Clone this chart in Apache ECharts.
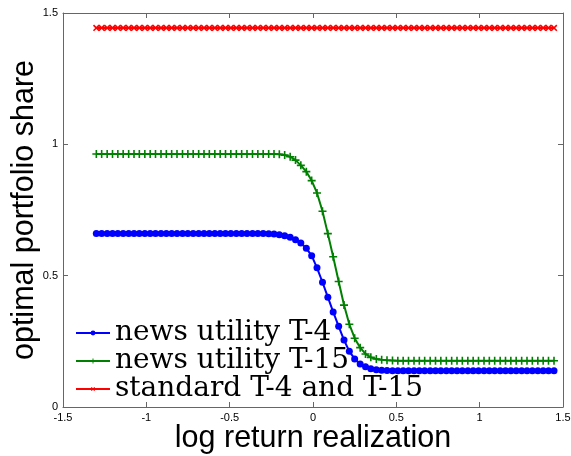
<!DOCTYPE html>
<html>
<head>
<meta charset="utf-8">
<script src="https://cdn.jsdelivr.net/npm/echarts@6/dist/echarts.min.js"></script>
<style>
html,body{margin:0;padding:0;background:#fff;}
#chart{width:571px;height:456px;}
</style>
</head>
<body>
<div id="chart"></div>
<script>
// log return grid
var xVals = [
 -1.300,-1.268,-1.235,-1.203,-1.171,-1.139,-1.106,-1.074,-1.042,-1.009,
 -0.977,-0.945,-0.912,-0.880,-0.848,-0.816,-0.783,-0.751,-0.719,-0.686,
 -0.654,-0.622,-0.589,-0.557,-0.525,-0.493,-0.460,-0.428,-0.396,-0.363,
 -0.331,-0.299,-0.266,-0.234,-0.202,-0.170,-0.137,-0.105,-0.073,-0.040,
 -0.008, 0.024, 0.057, 0.089, 0.121, 0.154, 0.186, 0.218, 0.250, 0.283,
  0.315, 0.347, 0.380, 0.412, 0.444, 0.477, 0.509, 0.541, 0.573, 0.606,
  0.638, 0.670, 0.703, 0.735, 0.767, 0.800, 0.832, 0.864, 0.896, 0.929,
  0.961, 0.993, 1.026, 1.058, 1.090, 1.123, 1.155, 1.187, 1.219, 1.252,
  1.284, 1.316, 1.349, 1.381, 1.413, 1.446
];
var newsT4 = [
 0.661,0.661,0.661,0.661,0.661,0.661,0.661,0.661,0.661,0.661,
 0.661,0.661,0.661,0.661,0.661,0.661,0.661,0.661,0.661,0.661,
 0.661,0.661,0.661,0.661,0.661,0.661,0.661,0.661,0.661,0.661,
 0.661,0.661,0.660,0.659,0.656,0.652,0.646,0.637,0.624,0.604,
 0.576,0.530,0.475,0.418,0.362,0.307,0.255,0.212,0.183,0.164,
 0.153,0.146,0.142,0.140,0.139,0.138,0.138,0.138,0.138,0.138,
 0.138,0.138,0.138,0.138,0.138,0.138,0.138,0.138,0.138,0.138,
 0.138,0.138,0.138,0.138,0.138,0.138,0.138,0.138,0.138,0.138,
 0.138,0.138,0.138,0.138,0.138,0.138
];
var newsT15 = [
 0.963,0.963,0.963,0.963,0.963,0.963,0.963,0.963,0.963,0.963,
 0.963,0.963,0.963,0.963,0.963,0.963,0.963,0.963,0.963,0.963,
 0.963,0.963,0.963,0.963,0.963,0.963,0.963,0.963,0.963,0.963,
 0.963,0.963,0.963,0.963,0.962,0.959,0.953,0.940,0.920,0.896,
 0.862,0.815,0.745,0.660,0.572,0.478,0.388,0.315,0.262,0.226,
 0.202,0.189,0.183,0.180,0.178,0.177,0.176,0.176,0.176,0.176,
 0.176,0.176,0.176,0.176,0.176,0.176,0.176,0.176,0.176,0.176,
 0.176,0.176,0.176,0.176,0.176,0.176,0.176,0.176,0.176,0.176,
 0.176,0.176,0.176,0.176,0.176,0.176
];
var standard = [
 1.443,1.443,1.443,1.443,1.443,1.443,1.443,1.443,1.443,1.443,
 1.443,1.443,1.443,1.443,1.443,1.443,1.443,1.443,1.443,1.443,
 1.443,1.443,1.443,1.443,1.443,1.443,1.443,1.443,1.443,1.443,
 1.443,1.443,1.443,1.443,1.443,1.443,1.443,1.443,1.443,1.443,
 1.443,1.443,1.443,1.443,1.443,1.443,1.443,1.443,1.443,1.443,
 1.443,1.443,1.443,1.443,1.443,1.443,1.443,1.443,1.443,1.443,
 1.443,1.443,1.443,1.443,1.443,1.443,1.443,1.443,1.443,1.443,
 1.443,1.443,1.443,1.443,1.443,1.443,1.443,1.443,1.443,1.443,
 1.443,1.443,1.443,1.443,1.443,1.443
];
var seriesNames = ['news utility T-4', 'news utility T-15', 'standard T-4 and T-15'];

function pairs(ys){ return xVals.map(function(x,i){ return [x, ys[i]]; }); }

var plusPath = 'path://M4,0 L6,0 L6,4 L10,4 L10,6 L6,6 L6,10 L4,10 L4,6 L0,6 L0,4 L4,4 Z';
var axisColor = '#666';
function xAx(pos, labels){
  return {
    type:'value', min:-1.5, max:1.5, interval:0.5, position:pos,
    axisLine:{show:true, onZero:false, lineStyle:{color:axisColor, width:1}},
    axisTick:{show:true, inside:true, length:5, lineStyle:{color:axisColor}},
    axisLabel:{show:labels, fontFamily:'Liberation Sans', fontSize:11, color:'#000', margin:5},
    splitLine:{show:false},
    name: labels ? 'log return realization' : '',
    nameLocation:'middle', nameGap:16, nameMoveOverlap:false,
    nameTextStyle:{fontFamily:'Liberation Sans', fontSize:30.5, color:'#000'}
  };
}
function yAx(pos, labels){
  return {
    type:'value', min:0, max:1.5, interval:0.5, position:pos,
    axisLine:{show:true, onZero:false, lineStyle:{color:axisColor, width:1}},
    axisTick:{show:true, inside:true, length:5, lineStyle:{color:axisColor}},
    axisLabel:{show:labels, fontFamily:'Liberation Sans', fontSize:11, color:'#000', margin:5},
    splitLine:{show:false},
    name: labels ? 'optimal portfolio share' : '',
    nameLocation:'middle', nameGap:23, nameMoveOverlap:false,
    nameTextStyle:{fontFamily:'Liberation Sans', fontSize:30.5, color:'#000'}
  };
}

var chart = echarts.init(document.getElementById('chart'), null, {renderer:'canvas'});
chart.setOption({
  animation:false,
  backgroundColor:'#fff',
  grid:{left:63, top:13, right:8, bottom:49, containLabel:false, outerBoundsMode:'none'},
  xAxis:[xAx('bottom', true), xAx('top', false)],
  yAxis:[yAx('left', true), yAx('right', false)],
  legend:{
    orient:'vertical', left:75, top:319, itemGap:0, itemWidth:34, itemHeight:6,
    padding:0,
    textStyle:{fontFamily:'DejaVu Serif', fontSize:28, color:'#000', lineHeight:25.5},
    data:seriesNames
  },
  series:[
    {name:seriesNames[0], type:'line', data:pairs(newsT4), color:'#0000ff',
     symbol:'circle', symbolSize:7, showAllSymbol:true,
     lineStyle:{width:2, color:'#0000ff'}, itemStyle:{color:'#0000ff'}},
    {name:seriesNames[1], type:'line', data:pairs(newsT15), color:'#008000',
     symbol:plusPath, symbolSize:8, showAllSymbol:true,
     lineStyle:{width:2, color:'#008000'}, itemStyle:{color:'#008000'}},
    {name:seriesNames[2], type:'line', data:pairs(standard), color:'#ff0000',
     symbol:plusPath, symbolSize:8, symbolRotate:45, showAllSymbol:true,
     lineStyle:{width:2, color:'#ff0000'}, itemStyle:{color:'#ff0000'}}
  ]
});
</script>
</body>
</html>
